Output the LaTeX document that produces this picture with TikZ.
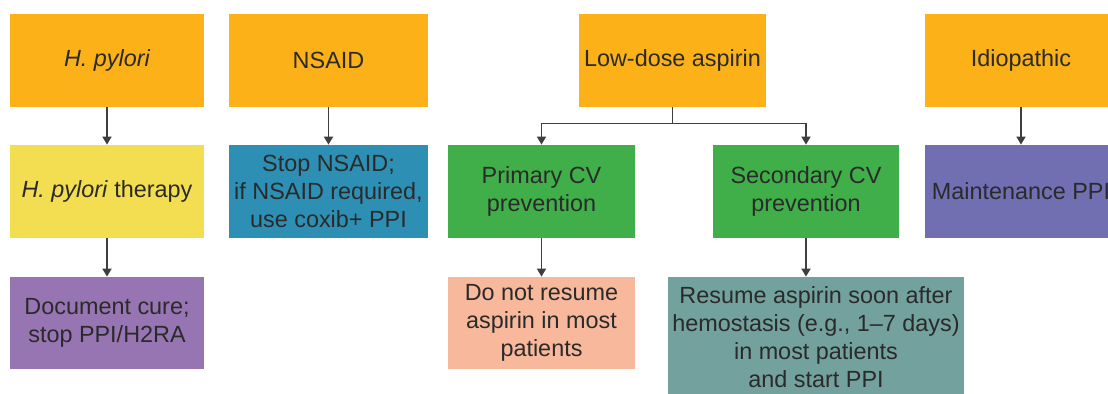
\documentclass[tikz,border=0pt]{standalone}
\usepackage{fontspec}
\setmainfont{Liberation Sans}
\usetikzlibrary{arrows.meta}
\definecolor{cause}{HTML}{FBB117}
\definecolor{hpy}{HTML}{F2DE50}
\definecolor{cure}{HTML}{9775B2}
\definecolor{nsaidc}{HTML}{2E8FB4}
\definecolor{cvgreen}{HTML}{40AE49}
\definecolor{salmon}{HTML}{F7B89C}
\definecolor{tealc}{HTML}{73A19D}
\definecolor{maintc}{HTML}{716EB2}
\definecolor{ink}{HTML}{2A2A2A}
\tikzset{
  box/.style={draw=none, align=center, text=ink, inner sep=2pt,
    font=\fontsize{11.7}{14}\selectfont, minimum height=46.5pt},
  arr/.style={draw=ink!90, line width=0.9pt,
    -{Triangle[length=4pt,width=4.5pt]}},
  link/.style={draw=ink!90, line width=0.9pt}
}
\begin{document}
\begin{tikzpicture}[x=0.5pt,y=-0.5pt]
\useasboundingbox (0,0) rectangle (1108,393);
\clip (0,0) rectangle (1108,393);
% top row: causes
\node[box, fill=cause, minimum width=97pt] (hp) at (107,60.5) {\itshape H. pylori};
\node[box, fill=cause, minimum width=99.5pt] (nsaid) at (328.5,60.5) {NSAID};
\node[box, fill=cause, minimum width=93.5pt] (lda) at (672.5,60.5) {Low-dose aspirin};
\node[box, fill=cause, minimum width=96pt] (idio) at (1021,60.5) {Idiopathic};
% middle row
\node[box, fill=hpy, minimum width=97pt] (hpt) at (107,191.5) {\textit{H. pylori} therapy};
\node[box, fill=nsaidc, minimum width=99.5pt] (stop) at (328.5,191.5) {Stop NSAID;\\ if NSAID required,\\ use coxib+ PPI};
\node[box, fill=cvgreen, minimum width=93.5pt] (prim) at (541.5,191.5) {Primary CV\\ prevention};
\node[box, fill=cvgreen, minimum width=93pt] (sec) at (806,191.5) {Secondary CV\\ prevention};
\node[box, fill=maintc, minimum width=96pt] (maint) at (1021,191.5) {Maintenance PPI};
% bottom row
\node[box, fill=cure, minimum width=97pt, minimum height=46pt] (doc) at (107,323) {Document cure;\\ stop PPI/H2RA};
\node[box, fill=salmon, minimum width=93.5pt, minimum height=46pt] (dnr) at (541.5,323) {Do not resume\\ aspirin in most\\ patients};
\node[box, fill=tealc, minimum width=146pt, minimum height=60.5pt] (res) at (816,337.5) {Resume aspirin soon after\\ hemostasis (e.g., 1--7 days)\\ in most patients\\ and start PPI};
% connectors
\draw[arr] (hp) -- (hpt);
\draw[arr] (hpt) -- (doc);
\draw[arr] (nsaid) -- (stop);
\draw[link] (lda.south) -- ++(0,16) coordinate (split);
\draw[arr] (split) -| (prim.north);
\draw[arr] (split) -| (sec.north);
\draw[arr] (prim) -- (dnr);
\draw[arr] (sec.south) -- (sec.south |- res.north);
\draw[arr] (idio) -- (maint);
\end{tikzpicture}
\end{document}
